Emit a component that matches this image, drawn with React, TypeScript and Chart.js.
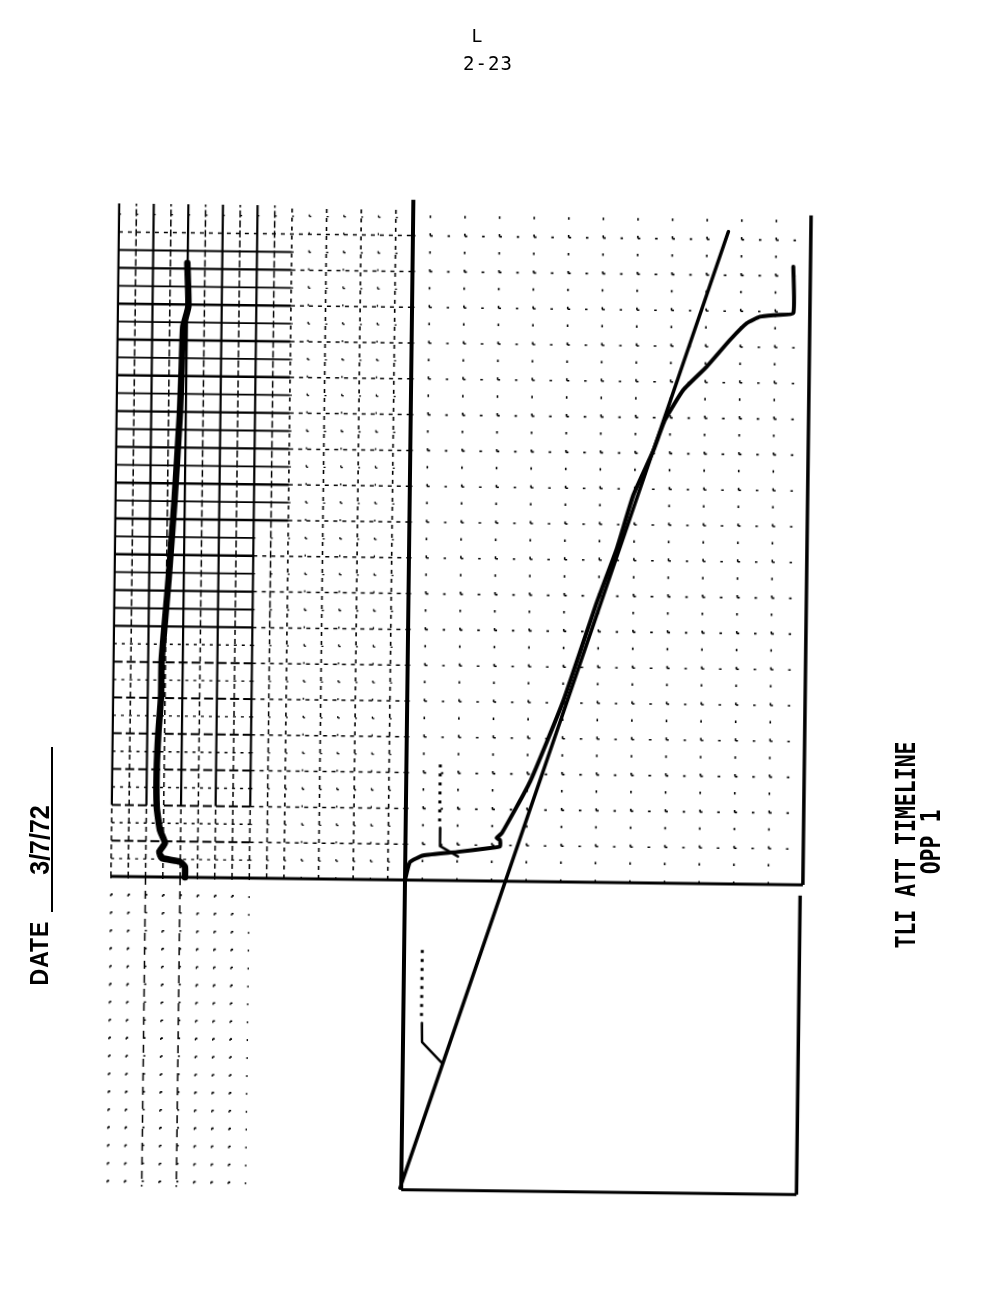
import React, { useEffect, useRef } from "react";
import { Chart, registerables } from "chart.js";

Chart.register(...registerables);

// ---- Data (grid units of the recorder paper: horizontal = attitude, vertical = time) ----
const leftTraceX = [-13.02, -12.93, -13.21, -13.27, -13.34, -13.59, -13.88, -14.22, -14.23, -14.36, -14.43, -14.4, -14.2, -13.9, -14.22, -14.08, -13.02, -12.73, -12.72];
const leftTraceY = [34.32, 31.88, 30.76, 28.52, 25.94, 21.07, 16.6, 12.12, 10.07, 8.04, 5.97, 3.92, 2.63, 1.9, 1.41, 1.06, 0.87, 0.59, 0];

const attitudeX = [0, 0.28, 1.04, 2.97, 4.89, 5.47, 5.46, 5.27, 5.57, 7.16, 9.02, 10.88, 12.0, 12.92, 14.05, 14.7, 15.74, 17.07, 18.4, 19.36, 20.12, 21.08, 22.04, 22.01];
const attitudeY = [0, 1.01, 1.38, 1.6, 1.85, 1.94, 2.3, 2.41, 2.69, 5.58, 10.11, 15.62, 18.64, 21.65, 24.16, 25.88, 27.57, 28.88, 30.39, 31.34, 31.71, 31.82, 31.93, 34.53];

const referenceX = [-0.07, 18.23];
const referenceY = [-17.21, 36.44];

const upperLeaderX = [1.99, 2.0, 3.05];
const upperLeaderY = [2.93, 1.92, 1.35];
const upperNoteX = [1.96, 1.96];
const upperNoteY = [3.3, 6.8];

const lowerLeaderX = [1.08, 1.1, 2.27];
const lowerLeaderY = [-7.98, -9.04, -10.2];
const lowerNoteX = [1.05, 1.05];
const lowerNoteY = [-3.9, -7.64];

// ---- Axis ranges ----
const X_MIN = -17;
const X_MAX = 23;
const Y_MIN = -17.3;
const Y_MAX = 38;
const GRID_TOP = 37.6;

// ---- Texts ----
const pageMark = "L";
const pageNumber = "2-23";
const dateLabel = "DATE";
const dateValue = "3/7/72";
const titleLines = ["TLI ATT TIMELINE", "OPP 1"];

const pts = (xs: number[], ys: number[]) => xs.map((x, i) => ({ x, y: ys[i] }));

const paperPlugin = {
  id: "paper",
  beforeDatasetsDraw(chart: any) {
    const { ctx } = chart;
    const sx = chart.scales.x;
    const sy = chart.scales.y;
    const line = (x1: number, y1: number, x2: number, y2: number, w: number, dash: number[]) => {
      ctx.beginPath();
      ctx.lineWidth = w;
      ctx.setLineDash(dash);
      ctx.moveTo(sx.getPixelForValue(x1), sy.getPixelForValue(y1));
      ctx.lineTo(sx.getPixelForValue(x2), sy.getPixelForValue(y2));
      ctx.stroke();
    };
    ctx.save();
    ctx.strokeStyle = "#000";
    ctx.lineCap = "butt";

    // upper panel verticals
    for (let k = X_MIN; k < X_MAX; k++) {
      if (k === 0) continue;
      const major = Math.abs(k) % 2 === 1;
      if (k <= -8) {
        const sb = major ? 4 : 14;
        line(k, sb, k, GRID_TOP, major ? 2.2 : 1.5, major ? [] : [7, 3]);
        line(k, 0, k, sb, 1.5, [5, 4]);
      } else if (major) {
        line(k, 0, k, GRID_TOP, 1.6, k < 0 ? [4, 5] : [2.5, 15.4]);
      } else if (k < 0) {
        line(k, 0, k, GRID_TOP, 1.3, [2, 15.9]);
      }
    }
    // upper panel horizontals
    for (let j = 1; j <= 37; j++) {
      const major = j % 2 === 0;
      let start = X_MIN;
      if (j >= 14 && j <= 35) {
        start = j >= 20 ? -7 : -9;
        line(X_MIN, j, start, j, major ? 2.4 : 1.8, []);
      } else if (j < 14) {
        start = -9;
        line(X_MIN, j, start, j, major ? 2 : 1.4, major ? [9, 4] : [3, 5]);
      }
      if (major) {
        line(start, j, 0, j, 1.5, [4, 5]);
        line(0, j, X_MAX, j, 1.6, [2.5, 14.8]);
      } else {
        line(start, j, 0, j, 1.3, [2, 15.3]);
      }
    }
    // lower panel dotted grid (left part only)
    for (let j = -1; j >= -17; j--) line(X_MIN, j, -9, j, 1.6, [2, 15.3]);
    for (let k = X_MIN; k <= -9; k++) {
      const major = k === -15 || k === -13;
      line(k, 0, k, Y_MIN, major ? 1.5 : 1.3, major ? [8, 6] : [2, 15.9]);
    }

    // frame
    line(X_MIN, 0, X_MAX, 0, 3, []);
    line(0, Y_MIN, 0, Y_MAX, 4, []);
    line(X_MAX, 0, X_MAX, 37.4, 3.5, []);
    line(X_MAX - 0.15, -0.6, X_MAX - 0.15, Y_MIN, 3.5, []);
    line(0, Y_MIN, X_MAX - 0.15, Y_MIN, 3, []);
    ctx.restore();
  },
};

const lineDs = (data: any[], width: number, extra: any = {}) => ({
  data,
  showLine: true,
  borderColor: "#000",
  backgroundColor: "#000",
  borderWidth: width,
  pointRadius: 0,
  tension: 0.15,
  borderCapStyle: "round",
  borderJoinStyle: "round",
  ...extra,
});

function RotText(props: { cx: number; cy: number; text: string; style: any; stretch?: number }) {
  const { cx, cy, text, style, stretch } = props;
  return (
    <div
      style={{
        position: "absolute",
        left: cx,
        top: cy,
        transform: `translate(-50%,-50%) rotate(-90deg) scaleY(${stretch ?? 1})`,
        whiteSpace: "nowrap",
        lineHeight: 1,
        color: "#000",
        ...style,
      }}
    >
      {text}
    </div>
  );
}

export default function App() {
  const ref = useRef<HTMLCanvasElement | null>(null);
  useEffect(() => {
    if (!ref.current) return;
    const chart = new Chart(ref.current, {
      type: "scatter",
      data: {
        datasets: [
          lineDs(pts(leftTraceX, leftTraceY), 6.5),
          lineDs(pts(attitudeX, attitudeY), 4),
          lineDs(pts(referenceX, referenceY), 3.5, { tension: 0 }),
          lineDs(pts(upperLeaderX, upperLeaderY), 2.5, { tension: 0 }),
          lineDs(pts(lowerLeaderX, lowerLeaderY), 2.5, { tension: 0 }),
          lineDs(pts(upperNoteX, upperNoteY), 3, { tension: 0, borderDash: [3, 6], borderCapStyle: "butt" }),
          lineDs(pts(lowerNoteX, lowerNoteY), 3, { tension: 0, borderDash: [3, 6], borderCapStyle: "butt" }),
        ] as any,
      },
      options: {
        animation: false,
        responsive: false,
        devicePixelRatio: 1,
        layout: { padding: { left: 110.9, right: 197.1, top: 199.8, bottom: 110.3 } },
        scales: {
          x: { type: "linear", min: X_MIN, max: X_MAX, display: false },
          y: { type: "linear", min: Y_MIN, max: Y_MAX, display: false },
        },
        plugins: { legend: { display: false }, tooltip: { enabled: false }, title: { display: false } },
        elements: { point: { radius: 0 } },
      } as any,
      plugins: [paperPlugin],
    });
    return () => chart.destroy();
  }, []);

  return (
    <div style={{ position: "absolute", left: 0, top: 0, width: 1000, height: 1300, overflow: "hidden", background: "#fff" }}>
      <canvas
        ref={ref}
        width={1000}
        height={1300}
        style={{
          position: "absolute",
          left: 0,
          top: 0,
          width: 1000,
          height: 1300,
          transform: "rotate(0.705deg)",
          transformOrigin: "405px 880px",
        }}
      />
      <div style={{ position: "absolute", left: 477, top: 36, transform: "translate(-50%,-50%)", font: "18px 'DejaVu Sans Mono'", lineHeight: 1 }}>
        {pageMark}
      </div>
      <div style={{ position: "absolute", left: 488, top: 63, transform: "translate(-50%,-50%)", font: "19px 'DejaVu Sans Mono'", lineHeight: 1, letterSpacing: 1 }}>
        {pageNumber}
      </div>
      <RotText cx={40} cy={953} text={dateLabel} stretch={1.1} style={{ font: "bold 23px 'Liberation Sans'", letterSpacing: 1 }} />
      <RotText cx={40} cy={840} text={dateValue} stretch={1.1} style={{ font: "bold 25px 'Liberation Sans'" }} />
      <div style={{ position: "absolute", left: 51, top: 747, width: 2, height: 165, background: "#000" }} />
      <RotText cx={906} cy={845} text={titleLines[0]} stretch={1.25} style={{ font: "bold 21.5px 'DejaVu Sans Mono'" }} />
      <RotText cx={931} cy={842} text={titleLines[1]} stretch={1.25} style={{ font: "bold 21.5px 'DejaVu Sans Mono'" }} />
    </div>
  );
}
